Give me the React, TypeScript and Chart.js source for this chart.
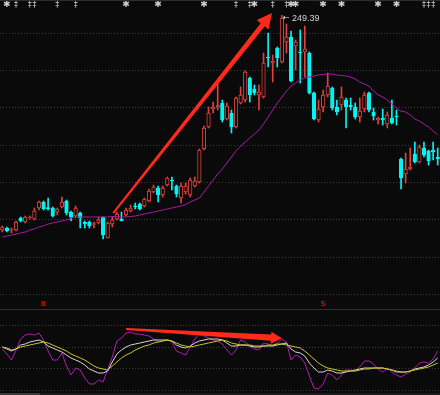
import React, { useEffect, useRef } from "react";
import { Chart, registerables } from "chart.js";
Chart.register(...registerables);

// ---------- data ----------
const opens = [
  134.65, 135.72, 134.4, 134.65, 141.07, 138.93, 141.07, 140.53, 146.41, 149.62,
  146.7, 146.41, 144.27, 146.95, 150.15, 144.27, 142.13, 143.74, 138.93, 138.93,
  137.6, 138.39, 141.6, 130.37, 137.86, 140.53, 140.53, 142.67, 144.81, 147.48,
  148.55, 147.48, 150.15, 154.97, 157.11, 153.36, 158.71, 161.39, 158.18, 151.76,
  154.97, 153.36, 158.18, 160.32, 177.96, 189.73, 199.36, 200.43, 202.57, 194.01,
  197.22, 189.73, 202.57, 204.17, 215.94, 210.05, 206.84, 205.77, 227.17, 223.96,
  231.98, 224.49, 235.19, 237.86, 233.05, 229.84, 229.84, 229.31, 207.91, 193.47,
  200.43, 206.84, 210.59, 200.43, 201.5, 204.17, 201.5, 200.43, 195.08, 199.36,
  207.91, 197.75, 193.47, 194.54, 191.33, 194.54, 195.61, 172.62, 164.6, 167.27,
  175.29, 171.01, 178.5, 176.9, 177.43, 173.69,
];
const closes = [
  136.25, 134.11, 134.9, 138.93, 139.46, 141.6, 141.6, 144.81, 149.62, 145.88,
  146.1, 142.13, 145.88, 149.62, 143.74, 141.6, 146.41, 141.07, 137.86, 136.79,
  138.1, 140.0, 131.97, 138.39, 140.0, 143.2, 139.7, 145.34, 146.41, 146.95,
  145.88, 151.22, 155.5, 157.64, 153.36, 157.11, 162.46, 160.85, 153.9, 158.18,
  158.18, 161.39, 160.85, 177.43, 189.2, 197.22, 200.43, 201.5, 193.47, 200.96,
  189.73, 205.24, 206.84, 219.14, 206.84, 207.91, 208.45, 223.96, 226.63, 225.03,
  226.63, 248.02, 237.86, 214.33, 235.19, 229.31, 231.44, 207.91, 194.01, 199.36,
  206.84, 211.66, 199.89, 197.75, 205.77, 200.43, 200.43, 195.08, 198.29, 206.84,
  198.82, 195.61, 194.54, 193.47, 196.15, 191.87, 195.08, 162.46, 167.27, 168.34,
  171.01, 179.03, 174.76, 171.55, 176.36, 172.62,
];
const highs = [
  136.79, 136.25, 135.72, 139.46, 141.6, 142.13, 142.13, 146.41, 150.15, 150.15,
  151.76, 146.95, 146.41, 152.29, 150.69, 144.81, 147.48, 144.27, 139.46, 139.46,
  138.93, 141.6, 141.6, 138.93, 141.6, 144.27, 144.27, 146.41, 148.01, 149.08,
  149.08, 151.76, 156.57, 158.71, 158.18, 158.18, 162.99, 162.99, 158.71, 159.78,
  159.78, 162.46, 162.99, 177.96, 190.27, 200.43, 203.1, 212.73, 204.17, 202.57,
  198.82, 205.77, 211.12, 219.68, 216.47, 212.19, 212.19, 229.31, 240.0, 228.24,
  232.51, 249.39, 244.81, 241.07, 236.26, 241.61, 243.74, 229.84, 208.45, 204.17,
  209.52, 218.61, 211.12, 204.17, 211.12, 205.24, 205.24, 202.57, 205.24, 208.45,
  208.45, 199.89, 195.08, 199.36, 197.75, 204.17, 198.82, 173.15, 175.83, 178.5,
  181.71, 180.1, 181.71, 177.43, 181.71, 178.5,
];
const lows = [
  133.58, 133.58, 133.04, 134.11, 138.93, 138.39, 140.53, 140.0, 145.34, 145.34,
  145.34, 141.6, 142.67, 146.41, 142.67, 139.46, 141.6, 135.72, 135.72, 135.72,
  135.72, 137.86, 129.83, 130.37, 136.25, 140.0, 139.46, 142.13, 144.27, 145.88,
  145.34, 146.95, 149.62, 154.43, 149.62, 152.29, 158.18, 156.04, 152.29, 149.08,
  153.9, 152.29, 157.64, 159.78, 177.43, 189.2, 197.22, 198.82, 192.4, 193.47,
  186.52, 189.2, 202.03, 203.1, 203.1, 206.84, 198.82, 205.24, 221.82, 213.8,
  221.82, 223.96, 229.31, 213.8, 220.21, 213.26, 216.47, 207.38, 193.47, 192.4,
  197.75, 205.77, 198.82, 196.15, 198.82, 189.2, 198.82, 194.01, 192.4, 197.75,
  197.75, 193.47, 191.33, 190.8, 189.2, 191.33, 190.8, 156.57, 159.78, 166.74,
  170.48, 170.48, 173.69, 169.41, 172.08, 169.41,
];
const movingAvg = [
  130.9, 131.44, 131.97, 132.51, 133.04, 133.58, 134.65, 135.18, 136.25, 136.79,
  137.86, 138.39, 138.93, 139.46, 140.0, 141.07, 141.33, 141.6, 141.6, 141.6,
  141.6, 141.6, 141.6, 141.6, 141.87, 141.87, 141.6, 141.6, 141.87, 142.13,
  142.67, 143.2, 143.74, 144.27, 144.81, 145.34, 145.88, 146.41, 146.95, 147.48,
  148.28, 149.62, 150.69, 151.76, 154.97, 158.18, 161.39, 164.6, 167.27, 170.48,
  173.69, 176.9, 179.57, 181.71, 183.85, 185.99, 188.13, 191.33, 195.08, 198.82,
  202.57, 205.77, 208.98, 211.66, 213.26, 214.87, 215.94, 216.47, 217.0, 217.54,
  217.81, 218.07, 218.07, 217.54, 217.27, 217.0, 216.47, 215.4, 213.8, 212.73,
  211.66, 208.98, 206.84, 205.77, 204.17, 202.03, 199.89, 198.29, 197.75, 196.15,
  194.01, 192.94, 191.33, 189.73, 187.59, 185.45,
];
// oscillator panel
const oscFast = [
  46, 41, 35, 45, 56, 60, 61, 60, 62, 55,
  44, 35, 35, 42, 29, 20, 27, 25, 17, 11,
  11, 15, 13, 26, 38, 54, 57, 62, 63, 61,
  61, 60, 59, 56, 53, 54, 55, 53, 44, 42,
  40, 48, 56, 61, 59, 57, 55, 54, 51, 45,
  40, 45, 55, 53, 49, 46, 45, 52, 51, 49,
  52, 56, 53, 35, 40, 38, 32, 19, 7, 6,
  11, 22, 20, 15, 20, 25, 25, 24, 28, 34,
  34, 31, 26, 23, 27, 23, 20, 18, 21, 23,
  27, 32, 33, 32, 36, 44,
];
const oscMid = [
  48, 46, 44, 46, 50, 51, 53, 54, 55, 53,
  49, 47, 45, 43, 40, 37, 35, 33, 30, 26,
  24, 22, 22, 24, 33, 41, 45, 48, 50, 51,
  52, 53, 54, 55, 55, 55, 55, 54, 50, 48,
  47, 49, 52, 54, 55, 56, 56, 56, 55, 52,
  49, 49, 50, 50, 49, 48, 48, 49, 49, 49,
  50, 51, 52, 46, 43, 42, 39, 32, 27, 23,
  23, 25, 24, 22, 22, 23, 24, 25, 26, 27,
  27, 27, 27, 27, 26, 25, 23, 23, 23, 24,
  26, 27, 28, 30, 33, 37,
];
const oscSlow = [
  48, 47, 45, 46, 48, 49, 50, 51, 52, 53,
  52, 50, 48, 46, 44, 41, 39, 37, 35, 32,
  29, 27, 26, 25, 29, 33, 37, 40, 42, 45,
  47, 49, 50, 52, 53, 54, 55, 54, 52, 50,
  49, 48, 49, 50, 51, 52, 53, 54, 55, 54,
  52, 51, 50, 50, 50, 49, 49, 49, 50, 50,
  51, 51, 50, 49, 48, 47, 44, 40, 36, 32,
  29, 27, 26, 25, 24, 24, 24, 24, 25, 26,
  26, 27, 27, 27, 26, 25, 24, 23, 23, 24,
  25, 26, 27, 28, 30, 32,
];
const days = Array.from({ length: opens.length }, (_, i) => String(i + 1));
const priceGrid = [100, 120, 140, 160, 180, 200, 220, 240];
const oscGrid = [5, 27, 48, 70];
// event markers along the top edge: candle index + glyph
const markerIdx = [1, 3, 6, 7, 12, 16, 27, 34, 44, 51, 54, 55, 59, 62, 63, 64, 70, 74, 82, 86, 92, 93, 94];
const markerSym = ["✱", "‡", "‡", "‡", "‡", "‡", "✱", "✱", "✱", "‡", "‡", "✱", "‡", "‡", "✱", "✱", "✱", "✱", "✱", "✱", "‡", "‡", "‡"];
const signalIdx = [9, 70];
const signalText = ["B", "S"];
const peakIdx = 61;
const peakLabel = "249.39";
// annotation arrows: [index, value]
const mainArrowFrom = [24.2, 143.7];
const mainArrowTo = [58.85, 250.7];
const oscArrowFrom = [27, 66];
const oscArrowTo = [61.03, 56.7];

// ---------- styles ----------
const BG = "#0a0a0a";
const UP = "#e2403c";
const DOWN = "#00f4f4";
const ARROW = "#ff2a1a";

function drawArrow(ctx: CanvasRenderingContext2D, x1: number, y1: number, x2: number, y2: number,
  w0: number, w1: number, headLen: number, headHalf: number, color: string) {
  const dx = x2 - x1, dy = y2 - y1, len = Math.hypot(dx, dy);
  const ux = dx / len, uy = dy / len, nx = -uy, ny = ux;
  const bx = x2 - ux * headLen, by = y2 - uy * headLen;
  ctx.save();
  ctx.beginPath();
  ctx.moveTo(x1 + nx * w0, y1 + ny * w0);
  ctx.lineTo(bx + nx * w1, by + ny * w1);
  ctx.lineTo(bx + nx * headHalf, by + ny * headHalf);
  ctx.lineTo(x2, y2);
  ctx.lineTo(bx - nx * headHalf, by - ny * headHalf);
  ctx.lineTo(bx - nx * w1, by - ny * w1);
  ctx.lineTo(x1 - nx * w0, y1 - ny * w0);
  ctx.closePath();
  ctx.fillStyle = color;
  ctx.fill();
  ctx.restore();
}

const mainOverlay = {
  id: "mainOverlay",
  afterDatasetsDraw(chart: any) {
    const { ctx, chartArea, scales } = chart;
    const x = scales.x, y = scales.y;
    drawArrow(ctx, x.getPixelForValue(mainArrowFrom[0]), y.getPixelForValue(mainArrowFrom[1]),
      x.getPixelForValue(mainArrowTo[0]), y.getPixelForValue(mainArrowTo[1]), 1, 2.6, 15, 7.5, ARROW);
    ctx.save();
    ctx.textAlign = "center";
    ctx.textBaseline = "middle";
    ctx.fillStyle = "#cfcfcf";
    markerIdx.forEach((m, k) => {
      ctx.font = markerSym[k] === "✱" ? '9px "DejaVu Sans"' : '8px "DejaVu Sans"';
      ctx.fillText(markerSym[k], x.getPixelForValue(m), chartArea.top + 5);
    });
    // peak label
    const px = x.getPixelForValue(peakIdx);
    const py = y.getPixelForValue(highs[peakIdx]);
    ctx.textAlign = "left";
    ctx.font = '8px "DejaVu Sans"';
    ctx.fillStyle = "#e0e0e0";
    ctx.fillText("←", px + 1, py + 2);
    ctx.font = '9px "Liberation Sans"';
    ctx.fillStyle = "#d4d4d4";
    ctx.fillText(peakLabel, px + 10, py + 3);
    // signals
    ctx.textAlign = "center";
    ctx.font = 'bold 7px "DejaVu Sans"';
    ctx.fillStyle = "#d00000";
    signalIdx.forEach((s, k) => ctx.fillText(signalText[k], x.getPixelForValue(s), chartArea.bottom - 5));
    ctx.restore();
  },
};

const oscOverlay = {
  id: "oscOverlay",
  afterDatasetsDraw(chart: any) {
    const { ctx, scales } = chart;
    const x = scales.x, y = scales.y;
    drawArrow(ctx, x.getPixelForValue(oscArrowFrom[0]), y.getPixelForValue(oscArrowFrom[1]),
      x.getPixelForValue(oscArrowTo[0]), y.getPixelForValue(oscArrowTo[1]), 1, 3.2, 11, 6, ARROW);
  },
};

const hiddenX = { type: "category" as const, display: false, offset: true };
function gridY(min: number, max: number, ticks: number[]) {
  return {
    type: "linear" as const,
    min, max,
    afterBuildTicks: (s: any) => { s.ticks = ticks.map((v) => ({ value: v })); },
    ticks: { display: false },
    grid: { color: "#3c3c3c", lineWidth: 1, drawTicks: false },
    border: { display: false, dash: [1, 2] },
  };
}

export default function App() {
  const mainRef = useRef<HTMLCanvasElement>(null);
  const oscRef = useRef<HTMLCanvasElement>(null);

  useEffect(() => {
    const isUp = closes.map((c, i) => c >= opens[i]);
    const main = new Chart(mainRef.current!, {
      type: "bar",
      data: {
        labels: days,
        datasets: [
          {
            type: "line",
            data: movingAvg,
            borderColor: "#a21ea2",
            borderWidth: 1,
            pointRadius: 0,
            tension: 0,
            order: 0,
          } as any,
          {
            type: "bar",
            data: opens.map((o, i) => [o, closes[i]]),
            backgroundColor: isUp.map((u) => (u ? BG : DOWN)),
            borderColor: isUp.map((u) => (u ? UP : DOWN)),
            borderWidth: 1,
            borderSkipped: false,
            barThickness: 3.6,
            grouped: false,
            order: 1,
          },
          {
            type: "bar",
            data: lows.map((l, i) => [l, highs[i]]),
            backgroundColor: isUp.map((u) => (u ? UP : DOWN)),
            borderWidth: 0,
            barThickness: 1,
            grouped: false,
            order: 2,
          },
        ],
      },
      options: {
        animation: false,
        responsive: false,
        maintainAspectRatio: false,
        devicePixelRatio: 1,
        events: [],
        layout: { padding: 0 },
        plugins: { legend: { display: false }, tooltip: { enabled: false } },
        scales: { x: hiddenX, y: gridY(92.4, 257.65, priceGrid) },
      },
      plugins: [mainOverlay],
    });

    const osc = new Chart(oscRef.current!, {
      type: "line",
      data: {
        labels: days,
        datasets: [
          { data: oscSlow, borderColor: "#c8c81e", borderWidth: 1, pointRadius: 0, tension: 0 },
          { data: oscMid, borderColor: "#d6d6d6", borderWidth: 1, pointRadius: 0, tension: 0 },
          { data: oscFast, borderColor: "#b01cb0", borderWidth: 1, pointRadius: 0, tension: 0 },
        ],
      },
      options: {
        animation: false,
        responsive: false,
        maintainAspectRatio: false,
        devicePixelRatio: 1,
        events: [],
        layout: { padding: 0 },
        plugins: { legend: { display: false }, tooltip: { enabled: false } },
        scales: { x: hiddenX, y: gridY(0, 86, oscGrid) },
      },
      plugins: [oscOverlay],
    });

    return () => {
      main.destroy();
      osc.destroy();
    };
  }, []);

  return (
    <div style={{ position: "fixed", left: 0, top: 0, width: 440, height: 395, background: BG, overflow: "hidden" }}>
      <canvas ref={mainRef} width={440} height={309} style={{ position: "absolute", left: 0, top: 0 }} />
      <canvas ref={oscRef} width={440} height={86} style={{ position: "absolute", left: 0, top: 309 }} />
      <div style={{ position: "absolute", left: 0, top: 0, width: 440, height: 1, background: "#2e2e2e" }} />
      <div style={{ position: "absolute", left: 0, top: 309, width: 440, height: 1, background: "#303030" }} />
      <div style={{ position: "absolute", left: 0, top: 393, width: 440, height: 2, background: "#1a1a1a" }} />
      <div style={{ position: "absolute", left: 0, top: 393, width: 40, height: 2, background: "#3a3a3a" }} />
    </div>
  );
}
